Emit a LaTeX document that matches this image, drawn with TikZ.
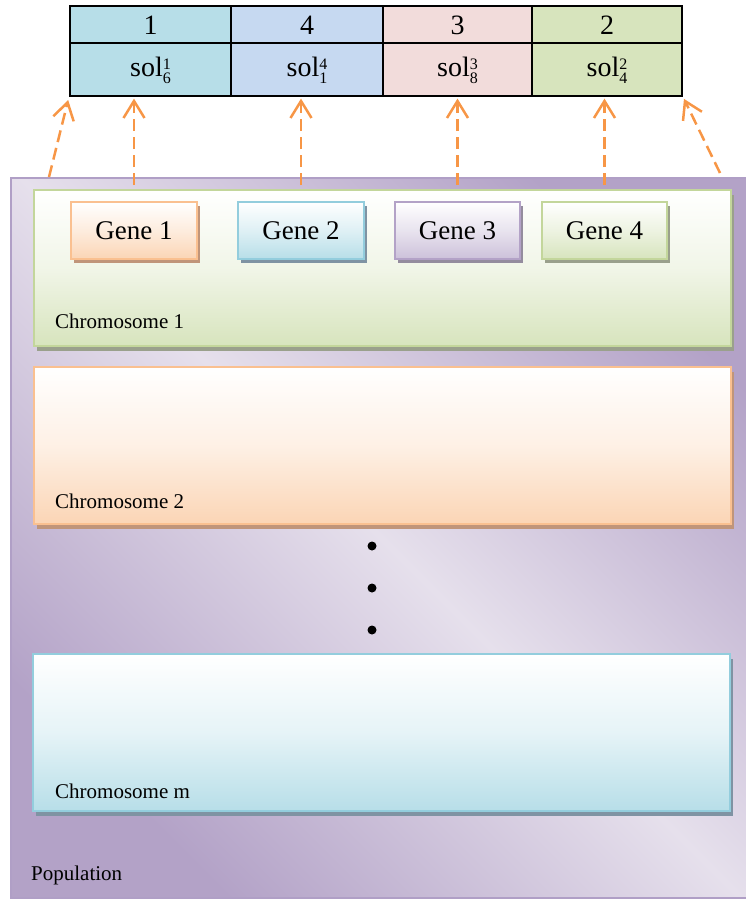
\documentclass[tikz,border=0pt]{standalone}
\usepackage{fontspec}
\setmainfont{Liberation Serif}
\usetikzlibrary{arrows.meta,shadows}

\definecolor{popdark}{HTML}{B3A2C7}
\definecolor{poplight}{HTML}{E6E0EC}
\definecolor{popedge}{HTML}{B09FC6}
\definecolor{grnfill}{HTML}{D7E4BD}
\definecolor{grnedge}{HTML}{C3D69B}
\definecolor{grnshad}{HTML}{9AA08C}
\definecolor{orgfill}{HTML}{FBD5B5}
\definecolor{orgedge}{HTML}{FAC090}
\definecolor{orgshad}{HTML}{C0957A}
\definecolor{cyafill}{HTML}{B7DEE8}
\definecolor{cyaedge}{HTML}{93CDDD}
\definecolor{cyashad}{HTML}{7F93A3}
\definecolor{purfill}{HTML}{CCC1DA}
\definecolor{puredge}{HTML}{B3A2C7}
\definecolor{purshad}{HTML}{948C9E}
\definecolor{cellA}{HTML}{B7DEE8}
\definecolor{cellB}{HTML}{C6D9F1}
\definecolor{cellC}{HTML}{F2DCDB}
\definecolor{cellD}{HTML}{D7E4BD}
\definecolor{arrowc}{HTML}{F79646}

% sol with a stacked superscript and subscript
\newcommand{\solidx}[2]{sol\rlap{\raisebox{7pt}{\fontsize{16}{16}\selectfont #1}}\raisebox{-6pt}{\fontsize{16}{16}\selectfont #2}}

\tikzset{
  chrom/.style n args={3}{rectangle, inner sep=0pt, line width=2pt, draw=#1,
    top color=white, bottom color=#2, middle color=#2!35!white,
    drop shadow={fill=#3, opacity=1, shadow xshift=3pt, shadow yshift=-5pt}},
  genebox/.style n args={3}{rectangle, inner sep=0pt, line width=2pt, draw=#1,
    top color=white, bottom color=#2, middle color=#2!45!white,
    drop shadow={fill=#3, opacity=1, shadow xshift=2.5pt, shadow yshift=-4pt},
    minimum width=125pt, minimum height=57pt,
    font=\fontsize{27}{27}\selectfont},
  cell/.style={rectangle, inner sep=0pt, draw=black, line width=2.2pt, fill=#1},
  celltext/.style={inner sep=0pt, font=\fontsize{28}{28}\selectfont},
  lbl/.style={anchor=base west, inner sep=0pt, font=\fontsize{21}{21}\selectfont},
  flow/.style={draw=arrowc, line width=2.5pt, dash pattern=on 12pt off 6pt,
    -{Straight Barb[length=17pt,width=21pt,line width=2.5pt]}},
  dotmark/.style={circle, fill=black, inner sep=0pt, minimum size=9pt}
}

\begin{document}
\begin{tikzpicture}[x=1pt,y=-1pt]
\useasboundingbox (0,0) rectangle (745,899);

% population background
\node[rectangle, inner sep=0pt, minimum width=741pt, minimum height=720pt,
      draw=popedge, line width=2pt,
      top color=popdark, bottom color=popdark, middle color=poplight,
      shading angle=-45] (pop) at (381.5,538) {};
\node[lbl] (poplbl) at (31,880) {Population};

% chromosomes
\node[chrom={grnedge}{grnfill}{grnshad}, minimum width=697pt, minimum height=156pt]
  (ch1) at (382.5,268) {};
\node[lbl] (ch1lbl) at (55,328) {Chromosome 1};
\node[chrom={orgedge}{orgfill}{orgshad}, minimum width=697pt, minimum height=157pt]
  (ch2) at (382.5,445.5) {};
\node[lbl] (ch2lbl) at (55,508) {Chromosome 2};
\node[chrom={cyaedge}{cyafill}{cyashad}, minimum width=697pt, minimum height=157pt]
  (chm) at (381.5,732.5) {};
\node[lbl] (chmlbl) at (55,798) {Chromosome m};

% ellipsis dots
\node[dotmark] (d1) at (372,546) {};
\node[dotmark] (d2) at (372,588) {};
\node[dotmark] (d3) at (372,630) {};

% genes
\node[genebox={orgedge}{orgfill}{orgshad}, minimum width=126pt] (g1) at (134,230.5) {Gene 1};
\node[genebox={cyaedge}{cyafill}{cyashad}, minimum width=126pt] (g2) at (301,230.5) {Gene 2};
\node[genebox={puredge}{purfill}{purshad}] (g3) at (457.5,230.5) {Gene 3};
\node[genebox={grnedge}{grnfill}{grnshad}] (g4) at (604.5,230.5) {Gene 4};

% solution table
\node[cell=cellA, minimum width=161pt, minimum height=37pt] (c1a) at (150.5,24.5) {};
\node[cell=cellB, minimum width=152pt, minimum height=37pt] (c2a) at (307,24.5) {};
\node[cell=cellC, minimum width=149pt, minimum height=37pt] (c3a) at (457.5,24.5) {};
\node[cell=cellD, minimum width=150pt, minimum height=37pt] (c4a) at (607,24.5) {};
\node[cell=cellA, minimum width=161pt, minimum height=53pt] (c1b) at (150.5,69.5) {};
\node[cell=cellB, minimum width=152pt, minimum height=53pt] (c2b) at (307,69.5) {};
\node[cell=cellC, minimum width=149pt, minimum height=53pt] (c3b) at (457.5,69.5) {};
\node[cell=cellD, minimum width=150pt, minimum height=53pt] (c4b) at (607,69.5) {};

\node[celltext, anchor=base] (n1) at (c1a.center |- 0,35) {1};
\node[celltext, anchor=base] (n2) at (c2a.center |- 0,35) {4};
\node[celltext, anchor=base] (n3) at (c3a.center |- 0,35) {3};
\node[celltext, anchor=base] (n4) at (c4a.center |- 0,35) {2};
\node[celltext, anchor=base] (s1) at (c1b.center |- 0,77) {\solidx{1}{6}};
\node[celltext, anchor=base] (s2) at (c2b.center |- 0,77) {\solidx{4}{1}};
\node[celltext, anchor=base] (s3) at (c3b.center |- 0,77) {\solidx{3}{8}};
\node[celltext, anchor=base] (s4) at (c4b.center |- 0,77) {\solidx{2}{4}};

% arrows from the genes to the table
\coordinate (a1) at (g1 |- 0,185);
\coordinate (a2) at (g2 |- 0,185);
\coordinate (a3) at (g3 |- 0,185);
\coordinate (a4) at (g4 |- 0,185);
\coordinate (al) at (49,177);
\coordinate (ar) at (720,173);
\draw[flow, shorten >=1.5pt] (a1) -- (a1 |- c1b.south);
\draw[flow, shorten >=1.5pt] (a2) -- (a2 |- c2b.south);
\draw[flow, shorten >=1.5pt] (a3) -- (a3 |- c3b.south);
\draw[flow, shorten >=1.5pt] (a4) -- (a4 |- c4b.south);
\draw[flow, shorten >=3pt] (al) -- (c1b.south west);
\draw[flow, shorten >=2pt] (ar) -- (c4b.south east);
\end{tikzpicture}
\end{document}
